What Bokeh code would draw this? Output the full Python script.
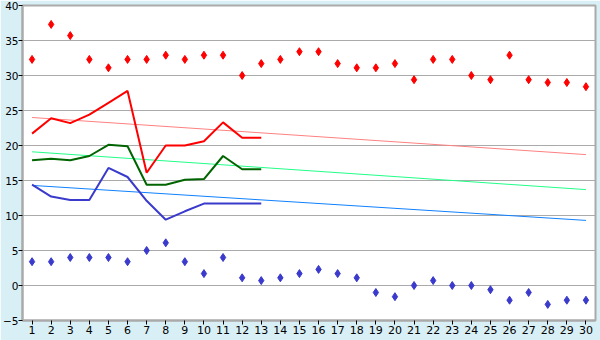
from bokeh.plotting import figure
from bokeh.models import FixedTicker, Range1d
from bokeh.embed import file_html
from bokeh.resources import INLINE

days = list(range(1, 31))
record_max = [32.3, 37.3, 35.7, 32.3, 31.1, 32.3, 32.3, 32.9, 32.3, 32.9,
              32.9, 30.0, 31.7, 32.3, 33.4, 33.4, 31.7, 31.1, 31.1, 31.7,
              29.4, 32.3, 32.3, 30.0, 29.4, 32.9, 29.4, 29.0, 29.0, 28.4]
record_min = [3.4, 3.4, 4.0, 4.0, 4.0, 3.4, 5.0, 6.1, 3.4, 1.7,
              4.0, 1.1, 0.7, 1.1, 1.7, 2.3, 1.7, 1.1, -1.0, -1.6,
              0.0, 0.7, 0.0, 0.0, -0.6, -2.1, -1.0, -2.7, -2.1, -2.1]
obs_days = list(range(1, 14))
obs_max = [21.7, 23.9, 23.2, 24.4, 26.1, 27.8, 16.1, 20.0, 20.0, 20.6, 23.3, 21.1, 21.1]
obs_avg = [17.9, 18.1, 17.9, 18.5, 20.1, 19.9, 14.4, 14.4, 15.1, 15.2, 18.5, 16.6, 16.6]
obs_min = [14.4, 12.7, 12.2, 12.2, 16.8, 15.5, 12.1, 9.4, 10.6, 11.7, 11.7, 11.7, 11.7]
trend_days = [1, 30]
norm_max = [24.0, 18.7]
norm_avg = [19.1, 13.7]
norm_min = [14.3, 9.3]
y_ticks = [-5, 0, 5, 10, 15, 20, 25, 30, 35, 40]

p = figure(width=600, height=340, output_backend="svg", toolbar_location=None,
           x_range=Range1d(0.5, 30.5), y_range=Range1d(-5, 40),
           min_border_left=20, min_border_right=5, min_border_top=5, min_border_bottom=20)
p.border_fill_color = "#d9eff6"
p.background_fill_color = "white"
p.outline_line_color = "#aaaaaa"
p.outline_line_width = 2

p.xgrid.visible = False
p.ygrid.ticker = FixedTicker(ticks=y_ticks)
p.ygrid.grid_line_color = "#aaaaaa"
p.ygrid.grid_line_width = 1

for ax in (p.xaxis[0], p.yaxis[0]):
    ax.axis_line_color = "#aaaaaa"
    ax.axis_line_width = 2
    ax.major_tick_line_color = "black"
    ax.major_tick_in = 0
    ax.major_tick_out = 4
    ax.minor_tick_line_color = None
    ax.major_label_text_font = "DejaVu Sans"
    ax.major_label_text_font_size = "11px"
    ax.major_label_text_color = "black"
    ax.major_label_standoff = 1
p.yaxis[0].major_label_standoff = 0
p.yaxis[0].major_label_text_font_size = "10.5px"
p.xaxis[0].ticker = FixedTicker(ticks=days)
p.yaxis[0].ticker = FixedTicker(ticks=y_ticks)

p.line(trend_days, norm_max, color="#ff8080", line_width=1)
p.line(trend_days, norm_avg, color="#22ff88", line_width=1)
p.line(trend_days, norm_min, color="#1080ff", line_width=1)

p.line(obs_days, obs_max, color="#ff0000", line_width=2)
p.line(obs_days, obs_avg, color="#006400", line_width=2)
p.line(obs_days, obs_min, color="#3a3acc", line_width=2)

p.scatter(days, record_max, marker="diamond", size=8, color="#ff0000")
p.scatter(days, record_min, marker="diamond", size=8, color="#3a3acc")

open("out.html", "w").write(file_html(p, INLINE))
